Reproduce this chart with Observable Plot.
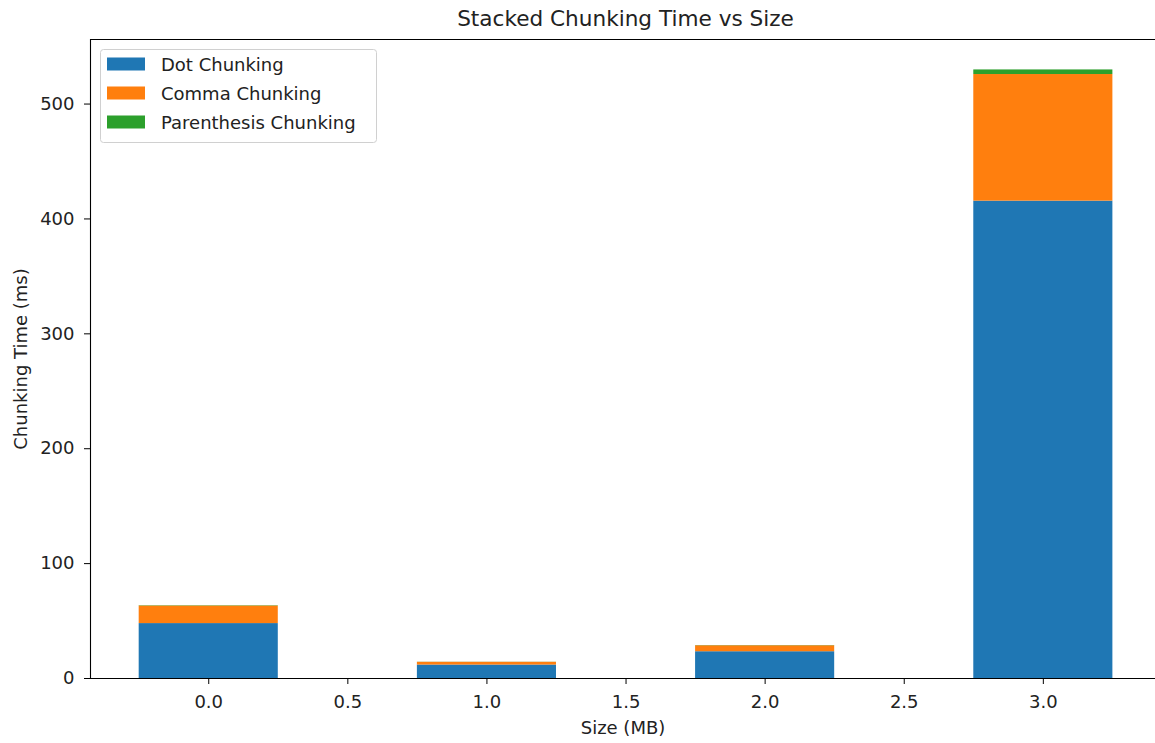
<!DOCTYPE html>
<html>
<head>
<meta charset="utf-8">
<script src="https://cdn.jsdelivr.net/npm/d3@7"></script>
<script src="https://cdn.jsdelivr.net/npm/@observablehq/plot@0.6"></script>
<style>
  html, body { margin: 0; padding: 0; background: #fff; }
  #chart svg { display: block; font-family: "DejaVu Sans", sans-serif; }
</style>
</head>
<body>
<div id="chart"></div>
<script>
// ---- data ----
const sizes = [0, 1, 2, 3];
const seriesNames = ["Dot Chunking", "Comma Chunking", "Parenthesis Chunking"];
const dotTimes = [47.8, 11.7, 23.3, 415.5];
const commaTimes = [15.3, 2.4, 5.2, 110.2];
const parenTimes = [0.3, 0.1, 0.2, 4.0];
const colors = ["#1f77b4", "#ff7f0e", "#2ca02c"];
const xTicks = [0, 0.5, 1, 1.5, 2, 2.5, 3];
const yTicks = [0, 100, 200, 300, 400, 500];
const title = "Stacked Chunking Time vs Size";
const xLabel = "Size (MB)";
const yLabel = "Chunking Time (ms)";
const barWidth = 0.5;

// build stacked rows
const seriesValues = [dotTimes, commaTimes, parenTimes];
const rows = [];
sizes.forEach((s, i) => {
  let base = 0;
  seriesValues.forEach((vals, k) => {
    rows.push({size: s, series: seriesNames[k], y1: base, y2: base + vals[i]});
    base += vals[i];
  });
});
const maxTotal = d3.max(sizes.map((s, i) => dotTimes[i] + commaTimes[i] + parenTimes[i]));
const yMax = maxTotal * 1.05;
const xMin = -0.25 - 0.05 * 3.5;

const W = 1155, H = 743;
const mL = 90, mR = 0, mT = 39, mB = 65;
const xRight = xMin + (W - mL - mR) / 278.2;

const chart = Plot.plot({
  width: W,
  height: H,
  marginLeft: mL,
  marginRight: mR,
  marginTop: mT,
  marginBottom: mB,
  style: {fontFamily: "DejaVu Sans, sans-serif", fontSize: "18px", color: "#000", background: "#fff"},
  x: {domain: [xMin, xRight]},
  y: {domain: [0, yMax]},
  color: {domain: seriesNames, range: colors},
  marks: [
    Plot.rect(rows, {
      x1: d => d.size - barWidth / 2,
      x2: d => d.size + barWidth / 2,
      y1: "y1", y2: "y2",
      fill: "series"
    }),
    Plot.ruleX([xMin], {stroke: "#000", strokeWidth: 1.1}),
    Plot.ruleY([0], {stroke: "#000", strokeWidth: 1.1}),
    Plot.ruleY([yMax], {stroke: "#000", strokeWidth: 1.1}),
    Plot.axisX({
      ticks: xTicks, tickFormat: d3.format(".1f"), tickSize: 6, tickPadding: 11,
      label: xLabel, labelAnchor: "center", labelArrow: "none", labelOffset: 55,
      fontSize: 18, stroke: "#000", fill: "#222"
    }),
    Plot.axisY({
      ticks: yTicks, tickSize: 6, tickPadding: 10,
      label: yLabel, labelAnchor: "center", labelArrow: "none", labelOffset: 76,
      fontSize: 18, stroke: "#000", fill: "#222"
    }),
    Plot.text([title], {frameAnchor: "top", lineAnchor: "middle", dy: -20, dx: 2.5, fontSize: 21.6, fill: "#222"})
  ]
});

// legend (matplotlib-style box)
const svg = d3.select(chart);
const lg = svg.append("g").attr("class", "legend").attr("text-anchor", "start");
lg.append("rect")
  .attr("x", 100.5).attr("y", 49.5).attr("width", 276).attr("height", 93)
  .attr("rx", 3).attr("fill", "#fff").attr("fill-opacity", 0.8)
  .attr("stroke", "#d0d0d0");
const rowY = [64, 93, 122];
seriesNames.forEach((name, i) => {
  lg.append("rect")
    .attr("x", 107).attr("y", rowY[i] - 6.5).attr("width", 38).attr("height", 13)
    .attr("fill", colors[i]);
  lg.append("text")
    .attr("x", 161).attr("y", rowY[i] + 1).attr("dy", "0.35em")
    .attr("text-anchor", "start")
    .attr("font-size", 18).attr("fill", "#222")
    .text(name);
});

document.getElementById("chart").appendChild(chart);
</script>
</body>
</html>
